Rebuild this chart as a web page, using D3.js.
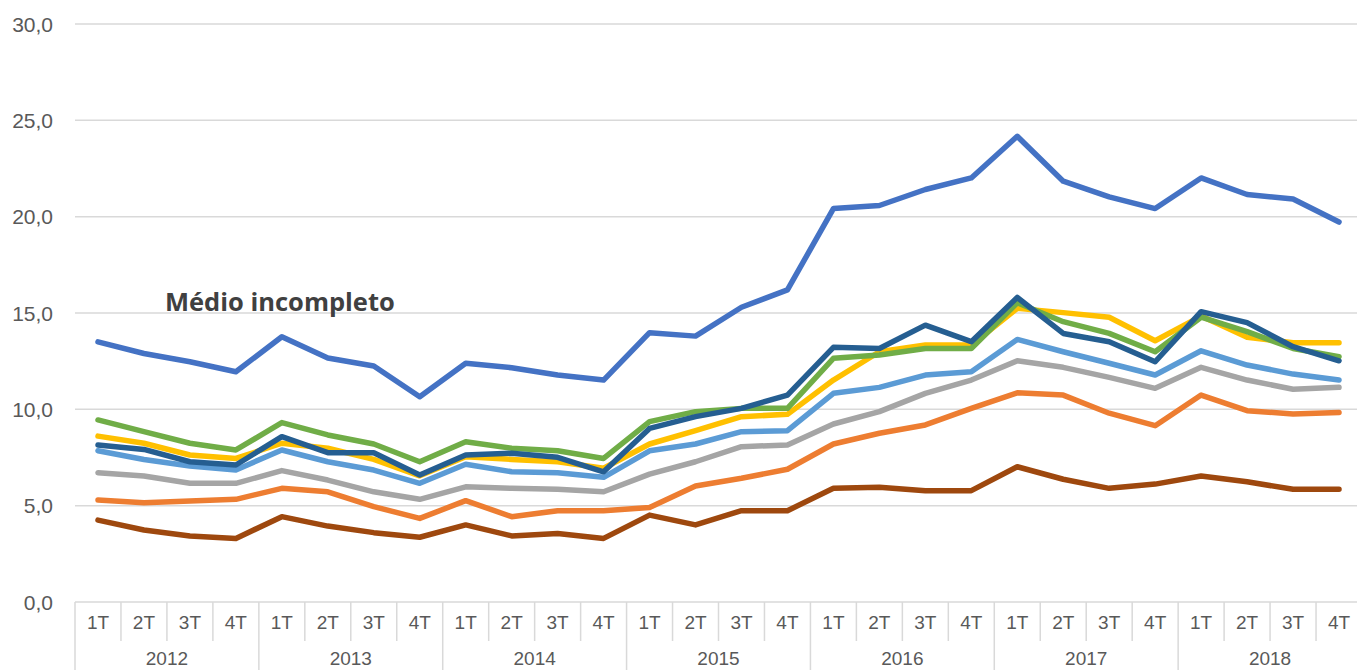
<!DOCTYPE html>
<html>
<head>
<meta charset="utf-8">
<script src="https://cdn.jsdelivr.net/npm/d3@7/dist/d3.min.js"></script>
<style>
  body { margin: 0; background: #fff; }
  svg { display: block; font-family: "Liberation Sans", Arial, sans-serif; }
</style>
</head>
<body>
<div id="chart"></div>
<script>
// Categorias do eixo X
const anos = ["2012", "2013", "2014", "2015", "2016", "2017", "2018"];
const trimestres = ["1T", "2T", "3T", "4T"];
const yTicks = [0, 5, 10, 15, 20, 25, 30];

// Séries, na ordem de desenho do Excel
const serieAzul = [13.5, 12.9, 12.47, 11.95, 13.77, 12.66, 12.25, 10.65, 12.39, 12.16, 11.78, 11.52, 13.98, 13.8, 15.3, 16.2, 20.42, 20.58, 21.41, 22.01, 24.17, 21.84, 21.03, 20.42, 22.01, 21.15, 20.92, 19.72];
const serieLaranja = [5.29, 5.15, 5.24, 5.33, 5.9, 5.72, 4.95, 4.34, 5.26, 4.43, 4.74, 4.74, 4.91, 6.02, 6.42, 6.89, 8.2, 8.76, 9.19, 10.05, 10.86, 10.74, 9.8, 9.15, 10.74, 9.93, 9.76, 9.84];
const serieCinza = [6.71, 6.54, 6.16, 6.16, 6.82, 6.33, 5.72, 5.33, 5.98, 5.9, 5.85, 5.72, 6.64, 7.28, 8.06, 8.15, 9.24, 9.88, 10.83, 11.52, 12.52, 12.18, 11.66, 11.09, 12.18, 11.52, 11.04, 11.14];
const serieAmarela = [8.61, 8.24, 7.63, 7.45, 8.24, 7.98, 7.4, 6.55, 7.54, 7.4, 7.28, 6.94, 8.2, 8.89, 9.62, 9.74, 11.52, 12.99, 13.34, 13.34, 15.24, 15.02, 14.78, 13.56, 14.84, 13.74, 13.46, 13.46];
const serieAzulClaro = [7.85, 7.4, 7.06, 6.85, 7.89, 7.28, 6.85, 6.16, 7.15, 6.76, 6.71, 6.47, 7.85, 8.2, 8.84, 8.89, 10.83, 11.14, 11.78, 11.95, 13.63, 12.99, 12.39, 11.78, 13.04, 12.3, 11.83, 11.52];
const serieVerde = [9.45, 8.84, 8.24, 7.89, 9.31, 8.67, 8.2, 7.28, 8.32, 7.98, 7.85, 7.45, 9.36, 9.88, 10.05, 10.05, 12.65, 12.82, 13.16, 13.16, 15.53, 14.55, 13.94, 12.99, 14.78, 14.03, 13.16, 12.73];
const serieAzulEscuro = [8.15, 7.92, 7.28, 7.11, 8.58, 7.75, 7.75, 6.59, 7.63, 7.72, 7.51, 6.76, 9.01, 9.62, 10.05, 10.74, 13.22, 13.16, 14.37, 13.51, 15.81, 13.94, 13.51, 12.47, 15.07, 14.5, 13.25, 12.52];
const serieMarrom = [4.25, 3.74, 3.43, 3.3, 4.43, 3.94, 3.6, 3.36, 4.0, 3.43, 3.56, 3.3, 4.51, 4.0, 4.74, 4.74, 5.9, 5.95, 5.78, 5.78, 7.02, 6.37, 5.9, 6.12, 6.54, 6.24, 5.85, 5.85];

const series = [
  { valores: serieAzul, cor: "#4472C4" },
  { valores: serieLaranja, cor: "#ED7D31" },
  { valores: serieCinza, cor: "#A5A5A5" },
  { valores: serieAmarela, cor: "#FFC000" },
  { valores: serieAzulClaro, cor: "#5B9BD5" },
  { valores: serieVerde, cor: "#70AD47" },
  { valores: serieAzulEscuro, cor: "#255E91" },
  { valores: serieMarrom, cor: "#9E480E" }
];

const width = 1357, height = 670;
const mLeft = 75, mRight = 1362, mTop = 24, mBottom = 602;

// chaves das categorias: "2012-1T", ...
const categorias = [];
anos.forEach(a => trimestres.forEach(t => categorias.push(a + "-" + t)));

const x = d3.scaleBand().domain(categorias).range([mLeft, mRight]).padding(0);
const y = d3.scaleLinear().domain([0, 30]).range([mBottom, mTop]);
const fmt = v => d3.format(".1f")(v).replace(".", ",");

const svg = d3.select("#chart").append("svg")
  .attr("width", width)
  .attr("height", height);

// Linhas de grade
svg.append("g").selectAll("line")
  .data(yTicks)
  .enter().append("line")
  .attr("x1", mLeft).attr("x2", width)
  .attr("y1", d => y(d)).attr("y2", d => y(d))
  .style("stroke", "#d9d9d9")
  .style("stroke-width", 1.5);

// Rótulos do eixo Y
svg.append("g").selectAll("text")
  .data(yTicks)
  .enter().append("text")
  .attr("x", 53)
  .attr("y", d => y(d) + 7.5)
  .attr("text-anchor", "end")
  .style("font-size", "21px")
  .style("fill", "#595959")
  .text(fmt);

// Eixo X: separadores verticais
const sep = svg.append("g");
categorias.forEach((c, i) => {
  const xs = x(c);
  sep.append("line")
    .attr("x1", xs).attr("x2", xs)
    .attr("y1", mBottom).attr("y2", i % 4 === 0 ? height : 641)
    .style("stroke", "#d9d9d9")
    .style("stroke-width", 1.5);
});

// Rótulos dos trimestres
svg.append("g").selectAll("text")
  .data(categorias)
  .enter().append("text")
  .attr("x", d => x(d) + x.bandwidth() / 2)
  .attr("y", 629)
  .attr("text-anchor", "middle")
  .style("font-size", "19px")
  .style("fill", "#595959")
  .text(d => d.split("-")[1]);

// Rótulos dos anos
svg.append("g").selectAll("text")
  .data(anos)
  .enter().append("text")
  .attr("x", d => x(d + "-1T") + x.bandwidth() * 2)
  .attr("y", 665)
  .attr("text-anchor", "middle")
  .style("font-size", "19px")
  .style("fill", "#595959")
  .text(d => d);

// Linhas das séries
const line = d3.line()
  .x((d, i) => x(categorias[i]) + x.bandwidth() / 2)
  .y(d => y(d));

svg.append("g").selectAll("path")
  .data(series)
  .enter().append("path")
  .attr("d", d => line(d.valores))
  .style("fill", "none")
  .style("stroke", d => d.cor)
  .style("stroke-width", 5.5)
  .style("stroke-linejoin", "round")
  .style("stroke-linecap", "round");

// Rótulo da série
svg.append("text")
  .attr("x", 165)
  .attr("y", 311)
  .style("font-family", "'Open Sans', 'Noto Sans', sans-serif")
  .style("font-size", "25.5px")
  .style("font-weight", "bold")
  .style("fill", "#404040")
  .text("Médio incompleto");
</script>
</body>
</html>
